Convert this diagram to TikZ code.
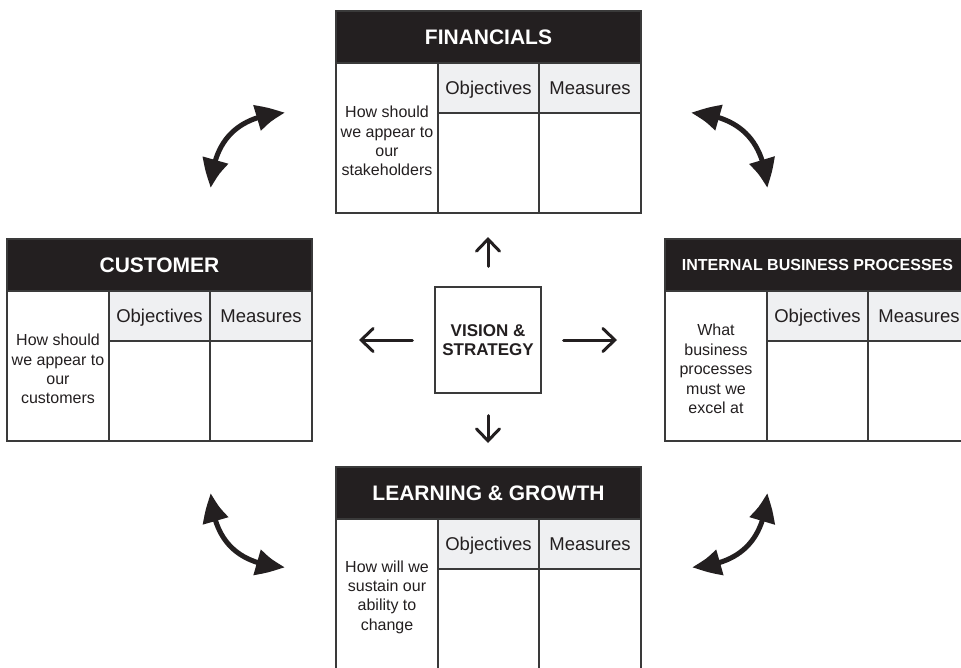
\documentclass[tikz,border=0pt]{standalone}
\usepackage{fontspec}
\setmainfont{Liberation Sans}
\usetikzlibrary{arrows.meta,bending}
\definecolor{ink}{HTML}{231F20}
\definecolor{rowc}{HTML}{EFF0F2}
\definecolor{linec}{HTML}{3A3A3A}
\tikzset{
  frame/.style={minimum width=305pt, minimum height=202pt, inner sep=0pt, outer sep=0pt, anchor=north west},
  gridline/.style={draw=linec, line width=1.3pt},
  titletxt/.style={text=white, inner sep=0pt, anchor=base},
  colh/.style={font=\fontsize{18.5}{22}\selectfont, inner sep=0pt, anchor=base, text=ink},
  lefttxt/.style={font=\fontsize{16}{19.4}\selectfont, align=center, inner sep=0pt, text=ink},
  centerbox/.style={draw=linec, line width=1.3pt, minimum width=106pt, minimum height=106pt, inner sep=0pt,
     font=\fontsize{17}{19.3}\selectfont\bfseries, align=center, text=ink},
  straightarr/.style={draw=ink, line width=3pt, line cap=round,
     -{Straight Barb[length=12pt,width=23pt,line cap=round]}},
  curvearr/.style={draw=ink, line width=5pt,
     {Triangle[length=30pt,width=25pt,bend]}-{Triangle[length=30pt,width=25pt,bend]}}
}
\newcommand\bscpanel[7]{%
  \node[frame] (#1) at (#2,#3) {};
  \fill[ink] (#1.north west) rectangle ([yshift=-52pt]#1.north east);
  \fill[rowc] ([shift={(102pt,-52pt)}]#1.north west) rectangle ([yshift=-102pt]#1.north east);
  \draw[gridline] ([yshift=-52pt]#1.north west) -- ([yshift=-52pt]#1.north east);
  \draw[gridline] ([shift={(102pt,-102pt)}]#1.north west) -- ([yshift=-102pt]#1.north east);
  \draw[gridline] ([shift={(102pt,-52pt)}]#1.north west) -- ([xshift=102pt]#1.south west);
  \draw[gridline] ([shift={(203pt,-52pt)}]#1.north west) -- ([xshift=203pt]#1.south west);
  \draw[gridline] (#1.north west) rectangle (#1.south east);
  \node[titletxt, font=#5] (#1-t) at ([yshift=-#6]#1.north) {#4};
  \node[colh] (#1-o) at ([shift={(152.5pt,-83pt)}]#1.north west) {Objectives};
  \node[colh] (#1-m) at ([shift={(254pt,-83pt)}]#1.north west) {Measures};
  \node[lefttxt] (#1-q) at ([shift={(51pt,-130pt)}]#1.north west) {#7};
}
\begin{document}
\begin{tikzpicture}[x=1pt, y=-1pt]
\useasboundingbox (0,0) rectangle (961,667);
\fill[white] (0,0) rectangle (961,667);

\bscpanel{fin}{336}{11}{FINANCIALS}{\fontsize{21}{24}\selectfont\bfseries}{33pt}{How should\\we appear to\\our\\stakeholders}
\bscpanel{cus}{7}{239}{CUSTOMER}{\fontsize{21}{24}\selectfont\bfseries}{33pt}{How should\\we appear to\\our\\customers}
\bscpanel{ibp}{665}{239}{INTERNAL BUSINESS PROCESSES}{\fontsize{16}{19}\selectfont\bfseries}{31.5pt}{What\\business\\processes\\must we\\excel at}
\bscpanel{lrn}{336}{467}{LEARNING \& GROWTH}{\fontsize{21}{24}\selectfont\bfseries}{33pt}{How will we\\sustain our\\ability to\\change}

\node[centerbox] (vs) at (488,340) {VISION \&\\STRATEGY};

\draw[straightarr, shorten <=20pt, shorten >=24pt] (vs.north) -- (vs.north |- fin.south);
\draw[straightarr, shorten <=22pt, shorten >=24pt] (vs.south) -- (vs.south |- lrn.north);
\draw[straightarr, shorten <=22pt, shorten >=47pt] (vs.west) -- (vs.west -| cus.east);
\draw[straightarr, shorten <=22pt, shorten >=48pt] (vs.east) -- (vs.east -| ibp.west);

\coordinate (tlA) at (211,188);
\coordinate (tlB) at (285,113);
\coordinate (trA) at (691,113);
\coordinate (trB) at (767,188);
\coordinate (blA) at (211,493);
\coordinate (blB) at (285,567);
\coordinate (brA) at (692,567);
\coordinate (brB) at (767,493);

\draw[curvearr] (tlA) .. controls (212.9,140.5) and (237.5,115.5) .. (tlB);
\draw[curvearr] (trA) .. controls (738.8,115.2) and (764.2,140.2) .. (trB);
\draw[curvearr] (blA) .. controls (213.1,540.3) and (237.7,564.9) .. (blB);
\draw[curvearr] (brA) .. controls (739.6,564.9) and (764.6,540.3) .. (brB);
\end{tikzpicture}
\end{document}
